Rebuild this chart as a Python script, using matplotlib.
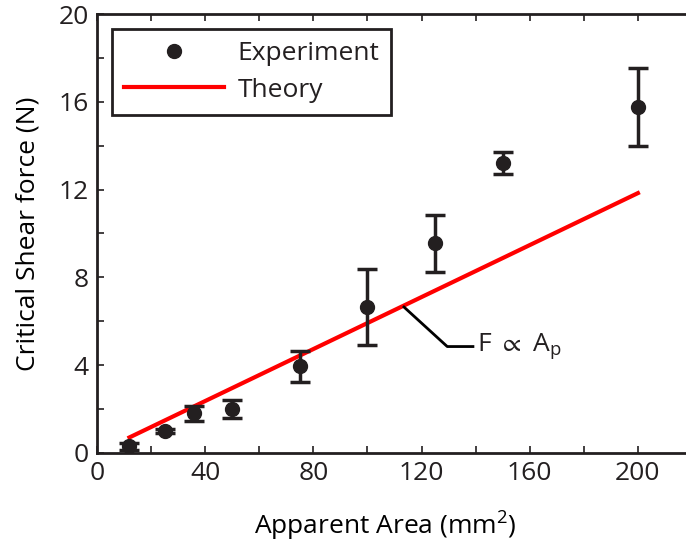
import matplotlib
matplotlib.use('Agg')
import matplotlib.pyplot as plt
from matplotlib.lines import Line2D

# Data
area = [12, 25, 36, 50, 75, 100, 125, 150, 200]
force = [0.3, 1.0, 1.8, 2.0, 3.95, 6.65, 9.55, 13.2, 15.75]
err_low = [0.15, 0.1, 0.35, 0.4, 0.7, 1.72, 1.3, 0.5, 1.77]
err_high = [0.15, 0.1, 0.35, 0.4, 0.7, 1.72, 1.3, 0.5, 1.77]

theory_area = [12, 200]
theory_force = [0.71, 11.84]

# leader line for the F ~ A_p label
leader_x = [113.5, 129.5, 139.0]
leader_y = [6.65, 4.85, 4.85]

dark = '#231f20'
fs = 19
plt.rcParams['font.family'] = ['Open Sans', 'DejaVu Sans']
plt.rcParams['mathtext.fontset'] = 'custom'
plt.rcParams['mathtext.rm'] = 'Open Sans'
plt.rcParams['mathtext.fallback'] = 'stixsans'
plt.rcParams['text.color'] = dark

fig = plt.figure(figsize=(6.86, 5.5), dpi=100)
ax = fig.add_axes([97 / 686, 97 / 550, 595 / 686, 439 / 550])

ax.plot(theory_area, theory_force, color='#ff0000', lw=3, zorder=2)
ax.errorbar(area, force, yerr=[err_low, err_high], fmt='o', color=dark,
            ms=10, elinewidth=2.5, capsize=7, capthick=2.5, zorder=3)
ax.plot(leader_x, leader_y, color='black', lw=2)
ax.text(140.5, 4.85, r'F $\propto$ A$_{\mathrm{p}}$', fontsize=fs,
        va='center', ha='left')

ax.set_xlim(0, 220)
ax.set_ylim(0, 20)
ax.set_xticks(range(0, 221, 20), minor=True)
ax.set_xticks(range(0, 201, 40))
ax.set_yticks(range(0, 21, 2), minor=True)
ax.set_yticks(range(0, 21, 4))
ax.tick_params(which='both', direction='in', top=True, right=False,
               labelsize=fs, colors=dark, width=1.2, length=5, pad=6)
for s in ax.spines.values():
    s.set_linewidth(2)
    s.set_color(dark)
ax.spines['right'].set_visible(False)

ax.set_xlabel('Apparent Area (mm$^2$)', fontsize=fs, labelpad=15)
ax.xaxis.set_label_coords(0.484, -0.125)
ax.set_ylabel('Critical Shear force (N)', fontsize=fs, labelpad=13)

handles = [
    Line2D([], [], ls='none', marker='o', ms=10, color=dark),
    Line2D([], [], color='#ff0000', lw=3),
]
leg = ax.legend(handles, ['Experiment', 'Theory'], loc='upper left',
                bbox_to_anchor=(0.0252, 0.966), fancybox=False, framealpha=1,
                edgecolor=dark, fontsize=fs, handlelength=3.8,
                handletextpad=0.5, borderpad=0.45, labelspacing=0.45,
                borderaxespad=0)
leg.get_frame().set_linewidth(2)

fig.savefig('out.png', dpi=100)
